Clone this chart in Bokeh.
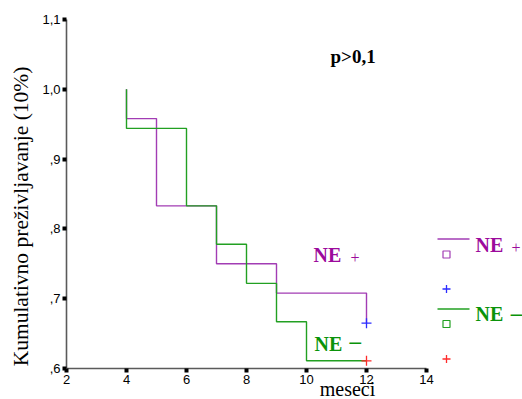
import math
from bokeh.plotting import figure
from bokeh.models import Range1d, FixedTicker, Label
from bokeh.embed import file_html
from bokeh.resources import INLINE

# ---- data ----
months_ticks = [2, 4, 6, 8, 10, 12, 14]
surv_ticks = [0.6, 0.7, 0.8, 0.9, 1.0, 1.1]
surv_tick_labels = [",6", ",7", ",8", ",9", "1,0", "1,1"]

ne_plus_t = [4, 4, 5, 7, 9, 12]
ne_plus_s = [1.0, 0.958, 0.833, 0.750, 0.708, 0.665]
ne_plus_cens_t = [12]
ne_plus_cens_s = [0.665]

ne_minus_t = [4, 4, 6, 7, 8, 9, 10, 12]
ne_minus_s = [1.0, 0.944, 0.833, 0.778, 0.722, 0.667, 0.611, 0.611]
ne_minus_cens_t = [12]
ne_minus_cens_s = [0.611]

x_label = "meseci"
y_label = "Kumulativno preživljavanje (10%)"
p_text = "p>0,1"
grp_plus = "NE"
grp_minus = "NE"

PURPLE_LINE = "#a23cb4"
PURPLE_TEXT = "#9c0a9c"
GREEN_LINE = "#22a022"
GREEN_TEXT = "#0a930a"
BLUE = "#2b2bff"
RED = "#ff2b2b"
SERIF = "Liberation Serif"
SANS = "Liberation Sans"

W, H = 522, 399
X0_PX, Y0_PX = 66, 368          # pixel position of (2, 0.6)
PX_PER_MONTH, PX_PER_UNIT = 30, 698

def dx(px):
    return 2 + (px - X0_PX) / PX_PER_MONTH
def dy(py):
    return 0.6 + (Y0_PX - py) / PX_PER_UNIT

p = figure(width=W, height=H, output_backend="svg", toolbar_location=None,
           x_range=Range1d(dx(0), dx(W)), y_range=Range1d(dy(H), dy(0)),
           min_border=0)
p.outline_line_color = None
p.grid.visible = False

for ax in (p.xaxis[0], p.yaxis[0]):
    ax.axis_line_color = "#5a5a5a"
    ax.axis_line_width = 1.6
    ax.major_tick_line_color = "black"
    ax.major_tick_line_width = 4
    ax.major_tick_in = 0
    ax.major_tick_out = 4
    ax.minor_tick_line_color = None
    ax.major_label_text_font = SANS
    ax.major_label_text_font_size = "13px"
    ax.major_label_text_color = "black"
    ax.major_label_standoff = 2

p.xaxis.ticker = FixedTicker(ticks=months_ticks)
p.xaxis.bounds = (months_ticks[0], months_ticks[-1])
p.xaxis.fixed_location = surv_ticks[0]
p.yaxis.ticker = FixedTicker(ticks=surv_ticks)
p.yaxis.bounds = (surv_ticks[0], surv_ticks[-1])
p.yaxis.fixed_location = months_ticks[0]
p.yaxis.major_label_overrides = {t: l for t, l in zip(surv_ticks, surv_tick_labels)}

# survival curves
p.step(ne_plus_t, ne_plus_s, mode="after", line_color=PURPLE_LINE, line_width=1.4)
p.step(ne_minus_t, ne_minus_s, mode="after", line_color=GREEN_LINE, line_width=1.4)
p.scatter(ne_plus_cens_t, ne_plus_cens_s, marker="cross", size=10, line_color=BLUE, line_width=1.3)
p.scatter(ne_minus_cens_t, ne_minus_cens_s, marker="cross", size=10, line_color=RED, line_width=1.3)

def lab(px, py, text, size, color, bold=False, align="left", angle=0.0):
    p.add_layout(Label(x=dx(px), y=dy(py), text=text, text_font=SERIF,
                       text_font_size=size, text_font_style="bold" if bold else "normal",
                       text_color=color, text_align=align, text_baseline="bottom",
                       angle=angle))

# in-plot labels (py = bottom of text box)
lab(330, 66, p_text, "19px", "black", bold=True)
lab(313, 265, grp_plus, "20px", PURPLE_TEXT, bold=True)
lab(354.5, 262.5, "+", "16px", PURPLE_TEXT, align="center")
lab(314, 354, grp_minus, "20px", GREEN_TEXT, bold=True)
lab(354.7, 353, "\u2013", "23px", GREEN_TEXT, bold=True, align="center")

# legend (drawn manually to the right of the axis)
p.line([dx(437), dx(469)], [dy(238.5), dy(238.5)], line_color=PURPLE_LINE, line_width=1.3)
p.line([dx(437), dx(469)], [dy(308.5), dy(308.5)], line_color=GREEN_LINE, line_width=1.3)
p.scatter([dx(446)], [dy(254)], marker="square", size=7, fill_color=None,
          line_color=PURPLE_LINE, line_width=1.2)
p.scatter([dx(446)], [dy(323.5)], marker="square", size=7, fill_color=None,
          line_color=GREEN_LINE, line_width=1.2)
p.scatter([dx(446)], [dy(288.5)], marker="cross", size=8, line_color=BLUE, line_width=1.3)
p.scatter([dx(446)], [dy(358.5)], marker="cross", size=8, line_color=RED, line_width=1.3)
lab(475, 255, grp_plus, "20px", PURPLE_TEXT, bold=True)
lab(515.5, 252.5, "+", "16px", PURPLE_TEXT, align="center")
lab(475, 324.5, grp_minus, "20px", GREEN_TEXT, bold=True)
lab(516, 325, "\u2013", "23px", GREEN_TEXT, bold=True, align="center")

# axis titles
lab(347, 399, x_label, "20px", "black", align="center")
lab(32, 216, y_label, "21.5px", "black", align="center", angle=math.pi / 2)

open("out.html", "w").write(file_html(p, INLINE))
